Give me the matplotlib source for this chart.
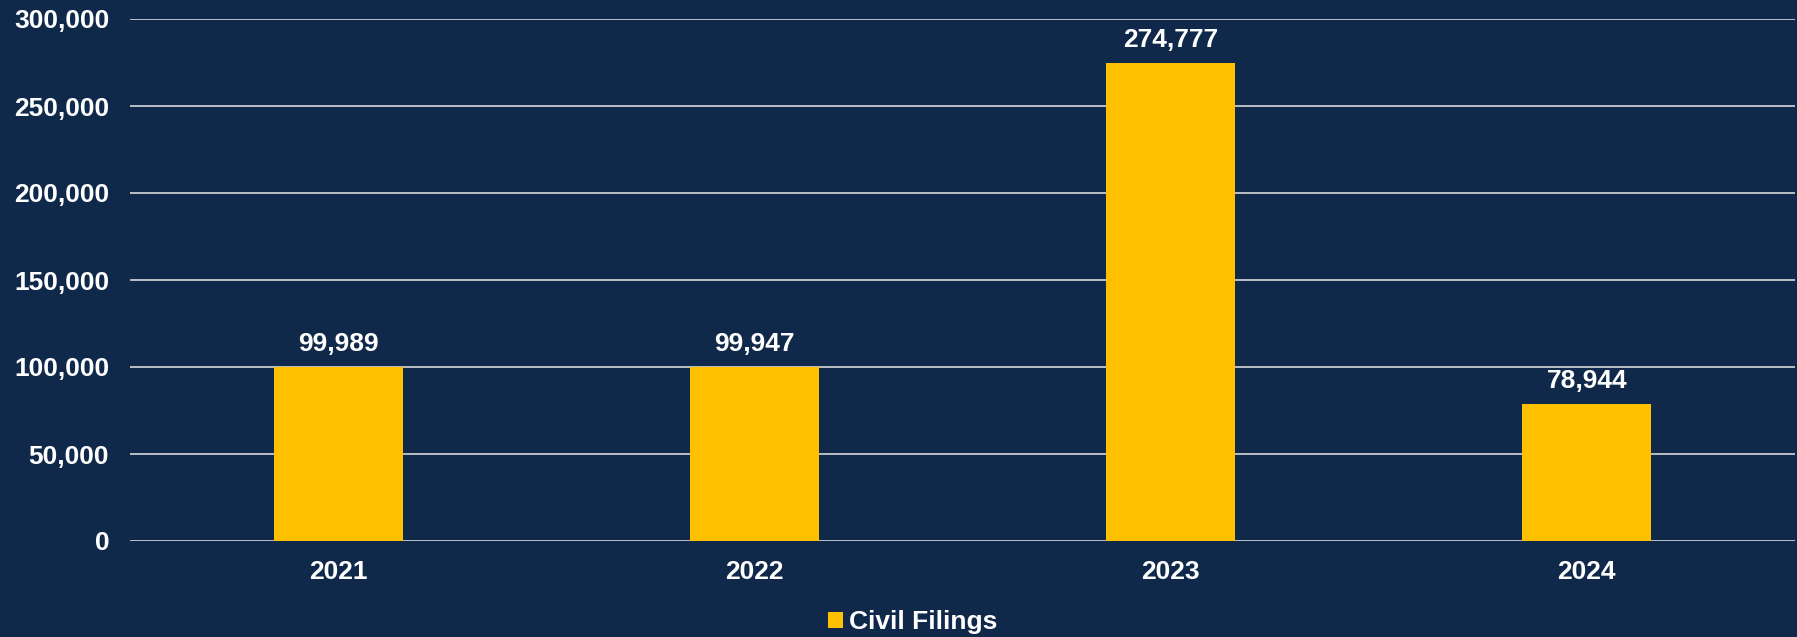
import matplotlib.pyplot as plt
from matplotlib.ticker import FuncFormatter

years = ["2021", "2022", "2023", "2024"]
civil_filings = [99989, 99947, 274777, 78944]

bg = "#10294a"
bar_color = "#ffc000"

plt.rcParams["font.family"] = ["Liberation Sans", "DejaVu Sans"]
plt.rcParams["font.weight"] = "bold"

fig = plt.figure(figsize=(17.97, 6.37), dpi=100, facecolor=bg)
ax = fig.add_axes([130 / 1797, 1 - 541 / 637, 1665 / 1797, 522 / 637])
ax.set_facecolor(bg)

x = range(len(years))
bars = ax.bar(x, civil_filings, width=0.31, color=bar_color, label="Civil Filings", zorder=3)

# value labels above each bar
for b, v in zip(bars, civil_filings):
    ax.annotate(f"{v:,}", (b.get_x() + b.get_width() / 2, v), xytext=(0, 8),
                textcoords="offset points", ha="center", va="bottom",
                color="white", fontsize=19, fontweight="bold")

ax.set_xlim(-0.5, len(years) - 0.5)
ax.set_ylim(0, 300000)
ax.set_yticks(range(0, 300001, 50000))
ax.yaxis.set_major_formatter(FuncFormatter(lambda v, p: f"{int(v):,}"))
ax.set_xticks(list(x))
ax.set_xticklabels(years)
ax.grid(axis="y", color="#d9d9d9", linewidth=1.2, zorder=0)
ax.tick_params(axis="both", length=0, colors="white", labelsize=19)
ax.tick_params(axis="y", pad=15)
ax.tick_params(axis="x", pad=14)
for lbl in ax.get_xticklabels() + ax.get_yticklabels():
    lbl.set_fontweight("bold")
for s in ax.spines.values():
    s.set_visible(False)

leg = fig.legend(loc="center", bbox_to_anchor=(0.508, 1 - 622 / 637), frameon=False,
                 handlelength=0.55, handleheight=0.55, handletextpad=0.25,
                 prop={"size": 19, "weight": "bold"})
for t in leg.get_texts():
    t.set_color("white")

fig.savefig("out.png", dpi=100, facecolor=bg)
